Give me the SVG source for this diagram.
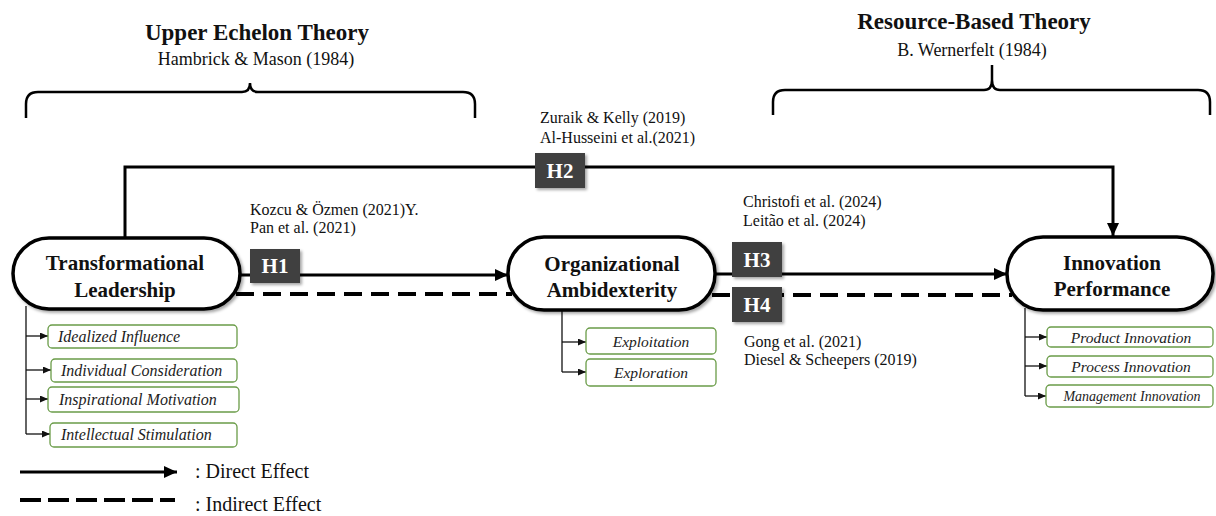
<svg xmlns="http://www.w3.org/2000/svg" width="1216" height="516" viewBox="0 0 1216 516">
<style>
text{font-family:"Liberation Serif","Times New Roman",serif;fill:#111}
.title{font-size:23px;font-weight:bold;text-anchor:middle}
.sub{font-size:18px;text-anchor:middle}
.cite{font-size:16px}
.node{fill:#fff;stroke:#000;stroke-width:3.5}
.ntext{font-size:21px;font-weight:bold;text-anchor:middle}
.hbox{fill:#404040}
.htext{font-size:21px;font-weight:bold;fill:#fff;text-anchor:middle}
.dim{fill:#fff;stroke:#6a9c48;stroke-width:1.3}
.dtext{font-size:16px;font-style:italic;fill:#222}
.solid{fill:none;stroke:#000;stroke-width:3}
.dash{fill:none;stroke:#000;stroke-width:4;stroke-dasharray:18 9}
.thin{fill:none;stroke:#111;stroke-width:1.3}
.brace{fill:none;stroke:#000;stroke-width:2.5}
.legend{font-size:20px}
</style>
<defs>
<marker id="arr" markerUnits="userSpaceOnUse" markerWidth="13" markerHeight="12" refX="13" refY="6" orient="auto">
<path d="M0,0 L13,6 L0,12 z" fill="#000"/>
</marker>
<marker id="sarr" markerUnits="userSpaceOnUse" markerWidth="8" markerHeight="7" refX="8" refY="3.5" orient="auto">
<path d="M0,0 L8,3.5 L0,7 z" fill="#111"/>
</marker>
<filter id="sh" x="-10%" y="-20%" width="130%" height="150%">
<feDropShadow dx="2" dy="2" stdDeviation="1.8" flood-color="#000" flood-opacity="0.35"/>
</filter>
</defs>

<g id="theories">
<text class="title" x="257" y="40">Upper Echelon Theory</text>
<text class="sub" x="256" y="65">Hambrick &amp; Mason (1984)</text>
<path class="brace" d="M26,118 L26,104 Q26,92 38,92 L242,92 Q250,92 250,83 Q250,92 258,92 L463,92 Q475,92 475,104 L475,118"/>
<text class="title" x="974" y="29">Resource-Based Theory</text>
<text class="sub" x="972" y="56">B. Wernerfelt (1984)</text>
<path class="brace" d="M773,115 L773,102 Q773,90 785,90 L984,90 Q992,90 992,80 L992,65 L992,80 Q992,90 1000,90 L1198,90 Q1210,90 1210,102 L1210,115"/>
</g>

<g id="connectors">
<path class="solid" d="M125,238 L125,167 L1113,167 L1113,236" marker-end="url(#arr)"/>
<line class="solid" x1="238" y1="275" x2="508" y2="275" marker-end="url(#arr)"/>
<line class="dash" x1="236" y1="294" x2="512" y2="294"/>
<line class="solid" x1="713" y1="274" x2="1007" y2="274" marker-end="url(#arr)"/>
<line class="dash" x1="712" y1="295" x2="1012" y2="295"/>
<path class="thin" d="M26,306 L26,434"/>
<line class="thin" x1="26" y1="336" x2="48" y2="336" marker-end="url(#sarr)"/>
<line class="thin" x1="26" y1="370" x2="51" y2="370" marker-end="url(#sarr)"/>
<line class="thin" x1="26" y1="399" x2="48" y2="399" marker-end="url(#sarr)"/>
<line class="thin" x1="26" y1="434" x2="50" y2="434" marker-end="url(#sarr)"/>
<path class="thin" d="M562,308 L562,372"/>
<line class="thin" x1="562" y1="342" x2="586" y2="342" marker-end="url(#sarr)"/>
<line class="thin" x1="562" y1="372" x2="586" y2="372" marker-end="url(#sarr)"/>
<path class="thin" d="M1025,308 L1025,396"/>
<line class="thin" x1="1025" y1="337" x2="1047" y2="337" marker-end="url(#sarr)"/>
<line class="thin" x1="1025" y1="366" x2="1047" y2="366" marker-end="url(#sarr)"/>
<line class="thin" x1="1025" y1="396" x2="1046" y2="396" marker-end="url(#sarr)"/>
</g>

<g id="transformational-leadership">
<rect class="node" x="13" y="238" width="227" height="71" rx="36" filter="url(#sh)"/>
<text class="ntext" x="125" y="270">Transformational</text>
<text class="ntext" x="125" y="297">Leadership</text>
</g>
<g id="organizational-ambidexterity">
<rect class="node" x="508" y="237" width="207" height="73" rx="36" filter="url(#sh)"/>
<text class="ntext" x="612" y="271">Organizational</text>
<text class="ntext" x="612" y="297">Ambidexterity</text>
</g>
<g id="innovation-performance">
<rect class="node" x="1007" y="237" width="206" height="73" rx="36" filter="url(#sh)"/>
<text class="ntext" x="1112" y="270">Innovation</text>
<text class="ntext" x="1112" y="296">Performance</text>
</g>

<g id="H1">
<rect class="hbox" x="250" y="249" width="50" height="34" filter="url(#sh)"/>
<text class="htext" x="275" y="273">H1</text>
</g>
<g id="H2">
<rect class="hbox" x="535" y="153" width="50" height="35" filter="url(#sh)"/>
<text class="htext" x="560" y="178">H2</text>
</g>
<g id="H3">
<rect class="hbox" x="732" y="242" width="50" height="35" filter="url(#sh)"/>
<text class="htext" x="757" y="267">H3</text>
</g>
<g id="H4">
<rect class="hbox" x="732" y="287" width="50" height="35" filter="url(#sh)"/>
<text class="htext" x="757" y="312">H4</text>
</g>

<g id="citations">
<text class="cite" x="540" y="123">Zuraik &amp; Kelly (2019)</text>
<text class="cite" x="540" y="143">Al-Husseini et al.(2021)</text>
<text class="cite" x="250" y="215">Kozcu &amp; Özmen (2021)Y.</text>
<text class="cite" x="250" y="233">Pan et al. (2021)</text>
<text class="cite" x="743" y="207">Christofi et al. (2024)</text>
<text class="cite" x="743" y="226">Leitão et al. (2024)</text>
<text class="cite" x="744" y="347">Gong et al. (2021)</text>
<text class="cite" x="744" y="365">Diesel &amp; Scheepers (2019)</text>
</g>

<g id="tl-dimensions">
<rect class="dim" x="48" y="325" width="189" height="23" rx="4"/>
<text class="dtext" x="58" y="342">Idealized Influence</text>
<rect class="dim" x="51" y="359" width="186" height="23" rx="4"/>
<text class="dtext" x="61" y="376">Individual Consideration</text>
<rect class="dim" x="48" y="387" width="191" height="25" rx="4"/>
<text class="dtext" x="59" y="405">Inspirational Motivation</text>
<rect class="dim" x="50" y="423" width="187" height="24" rx="4"/>
<text class="dtext" x="61" y="440">Intellectual Stimulation</text>
</g>

<g id="oa-dimensions">
<rect class="dim" x="586" y="328" width="130" height="26" rx="4"/>
<text class="dtext" x="651" y="347" text-anchor="middle" style="font-size:15.5px">Exploitation</text>
<rect class="dim" x="586" y="359" width="130" height="27" rx="4"/>
<text class="dtext" x="651" y="378" text-anchor="middle" style="font-size:15.5px">Exploration</text>
</g>

<g id="ip-dimensions">
<rect class="dim" x="1047" y="327" width="166" height="20" rx="4"/>
<text class="dtext" x="1131" y="343" text-anchor="middle" style="font-size:15.5px">Product Innovation</text>
<rect class="dim" x="1047" y="356" width="166" height="21" rx="4"/>
<text class="dtext" x="1131" y="372" text-anchor="middle" style="font-size:15.5px">Process Innovation</text>
<rect class="dim" x="1046" y="385" width="167" height="22" rx="4"/>
<text class="dtext" x="1132" y="401" text-anchor="middle" style="font-size:14px">Management Innovation</text>
</g>

<g id="legend">
<line class="solid" x1="20" y1="472" x2="177" y2="472" marker-end="url(#arr)"/>
<text class="legend" x="195" y="478">: Direct Effect</text>
<line class="dash" x1="20" y1="500" x2="175" y2="500" style="stroke-dasharray:21 7"/>
<text class="legend" x="195" y="511">: Indirect Effect</text>
</g>
</svg>
